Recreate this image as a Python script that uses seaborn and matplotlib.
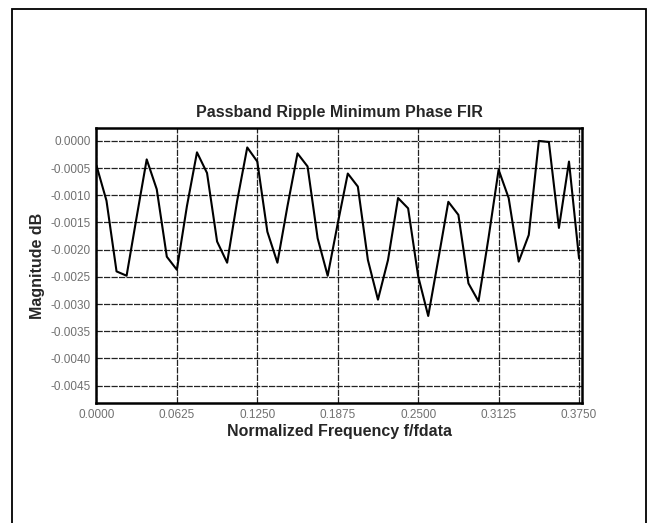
import numpy as np
import pandas as pd
import seaborn as sns
import matplotlib.pyplot as plt
from matplotlib.patches import Rectangle

# frequency samples, step 1/128 from 0 to 0.375
freq = [k / 128 for k in range(49)]
# passband ripple (dB)
mag_db = [
    -0.00045, -0.00110, -0.00240, -0.00248, -0.00140, -0.00034, -0.00089,
    -0.00213, -0.00237, -0.00120, -0.00021, -0.00059, -0.00185, -0.00224,
    -0.00110, -0.00012, -0.00038, -0.00167, -0.00224, -0.00120, -0.00023,
    -0.00047, -0.00179, -0.00248, -0.00152, -0.00060, -0.00084, -0.00219,
    -0.00292, -0.00219, -0.00105, -0.00124, -0.00249, -0.00322, -0.00218,
    -0.00112, -0.00136, -0.00262, -0.00295, -0.00178, -0.00053, -0.00105,
    -0.00222, -0.00173, 0.00000, -0.00002, -0.00160, -0.00038, -0.00216,
]
x_ticks = [0.0, 0.0625, 0.125, 0.1875, 0.25, 0.3125, 0.375]
y_ticks = [0.0, -0.0005, -0.0010, -0.0015, -0.0020, -0.0025, -0.0030,
           -0.0035, -0.0040, -0.0045]

df = pd.DataFrame({'freq': freq, 'mag': mag_db})

sns.set_style('white')
plt.rcParams['font.family'] = ['Liberation Sans', 'DejaVu Sans']

fig = plt.figure(figsize=(6.56, 5.23), dpi=100)
ax = fig.add_axes([0.147, 0.2285, 0.740, 0.527])

sns.lineplot(data=df, x='freq', y='mag', color='black', linewidth=1.5, ax=ax)

ax.set_xlim(0, 0.3772)
ax.set_ylim(-0.00483, 0.00024)
ax.set_xticks(x_ticks)
ax.set_xticklabels([f'{t:.4f}' for t in x_ticks])
ax.set_yticks(y_ticks)
ax.set_yticklabels([f'{t:.4f}' if t != 0 else '0.0000' for t in y_ticks])
ax.tick_params(length=0, labelsize=8.5, labelcolor='#707070', pad=4)

ax.grid(True, color='#222222', linestyle=(0, (5, 1)), linewidth=0.9)
for s in ax.spines.values():
    s.set_color('black')
    s.set_linewidth(1.8)

ax.set_title('Passband Ripple Minimum Phase FIR', fontsize=11.5,
             fontweight='bold', pad=8)
ax.set_xlabel('Normalized Frequency f/fdata', fontsize=11.5,
              fontweight='bold', labelpad=2)
ax.set_ylabel('Magnitude dB', fontsize=11.5, fontweight='bold', labelpad=4)

# page border (open at the bottom)
fig.patches.append(Rectangle((0.019, -0.1), 0.965, 1.082,
                             transform=fig.transFigure, fill=False,
                             edgecolor='black', linewidth=1.3))

plt.savefig('out.png', dpi=100)
plt.close()
